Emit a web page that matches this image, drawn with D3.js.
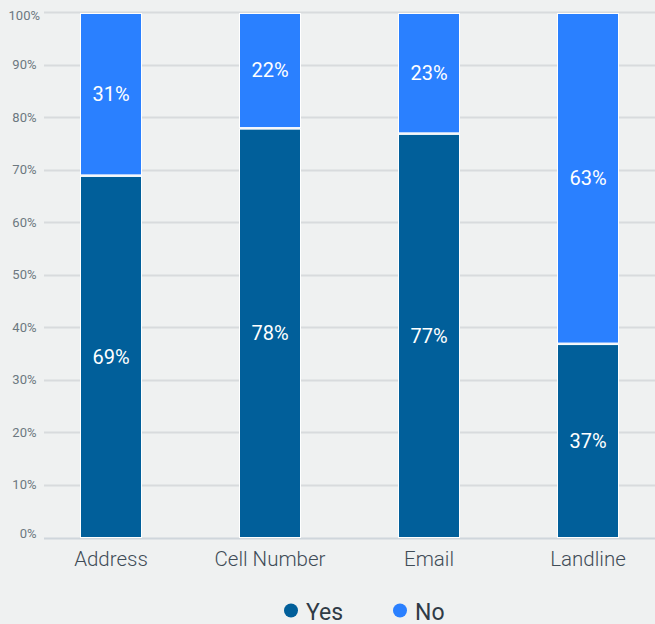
<!DOCTYPE html>
<html>
<head>
<meta charset="utf-8">
<script src="https://cdn.jsdelivr.net/npm/d3@7"></script>
<style>
  html, body { margin: 0; padding: 0; background: #eff1f1; }
  svg { display: block; font-family: Roboto, "Noto Sans", sans-serif; }
</style>
</head>
<body>
<svg id="chart" width="655" height="624"></svg>
<script>
// Share of respondents per contact type
const categories = ["Address", "Cell Number", "Email", "Landline"];
const yesValues = [69, 78, 77, 37];
const noValues = [31, 22, 23, 63];
const seriesNames = ["Yes", "No"];
const seriesColors = ["#015f9a", "#2a80ff"];
const yTicks = [0, 10, 20, 30, 40, 50, 60, 70, 80, 90, 100];

const svg = d3.select("#chart");
const gridLeft = 44, gridRight = 655;

const y = d3.scaleLinear().domain([0, 100]).range([537.5, 12]);
const x = d3.scaleBand().domain(categories).range([31.5, 667.5]).paddingInner(0.61).paddingOuter(0.305);

// horizontal gridlines
svg.append("g").selectAll("line").data(yTicks).join("line")
  .attr("x1", gridLeft).attr("x2", gridRight)
  .attr("y1", d => Math.round(y(d)) + 0.5).attr("y2", d => Math.round(y(d)) + 0.5)
  .attr("stroke", d => d === 0 ? "#cfd6dc" : "#d8dbdd").attr("stroke-width", 2);

// y tick labels, kept inside the plot's vertical extent
svg.append("g").selectAll("text").data(yTicks).join("text")
  .attr("x", d => d === 100 ? 40 : 36.5)
  .attr("y", d => Math.min(537.5, Math.max(20, y(d) + 4.5)))
  .attr("text-anchor", "end").attr("font-size", 13).attr("fill", "#6c7880")
  .text(d => d + "%");

// stacked data
const rows = categories.map((c, i) => ({ cat: c, Yes: yesValues[i], No: noValues[i] }));
const stack = d3.stack().keys(seriesNames)(rows);

const layers = svg.append("g").selectAll("g").data(stack).join("g")
  .attr("fill", (d, i) => seriesColors[i]);

layers.selectAll("rect").data(d => d).join("rect")
  .attr("x", d => x(d.data.cat) + 0.5)
  .attr("width", x.bandwidth() - 1)
  .attr("y", d => y(d[1]) + 1.5)
  .attr("height", d => Math.max(0, y(d[0]) - y(d[1]) - 1.5))
  .attr("stroke", "#ffffff").attr("stroke-width", 1);

// value labels inside segments
layers.selectAll("text").data(d => d.map(v => ({ v, key: d.key }))).join("text")
  .attr("x", d => x(d.v.data.cat) + x.bandwidth() / 2)
  .attr("y", d => (y(d.v[0]) + y(d.v[1])) / 2 + 7.5)
  .attr("text-anchor", "middle").attr("font-size", 20).attr("fill", "#ffffff")
  .text(d => d.v.data[d.key] + "%");

// category labels
svg.append("g").selectAll("text").data(categories).join("text")
  .attr("x", d => x(d) + x.bandwidth() / 2).attr("y", 566)
  .attr("text-anchor", "middle").attr("font-size", 20.5).attr("font-weight", 300)
  .attr("fill", "#3f4c57")
  .text(d => d);

// legend
const legendItems = [{ name: "Yes", cx: 291 }, { name: "No", cx: 400 }];
const lg = svg.append("g").selectAll("g").data(legendItems).join("g");
lg.append("circle").attr("cx", d => d.cx).attr("cy", 610.5).attr("r", 7)
  .attr("fill", (d, i) => seriesColors[i]);
lg.append("text").attr("x", d => d.cx + 15).attr("y", 620)
  .attr("font-size", 23).attr("fill", "#2f3b46").text(d => d.name);
</script>
</body>
</html>
